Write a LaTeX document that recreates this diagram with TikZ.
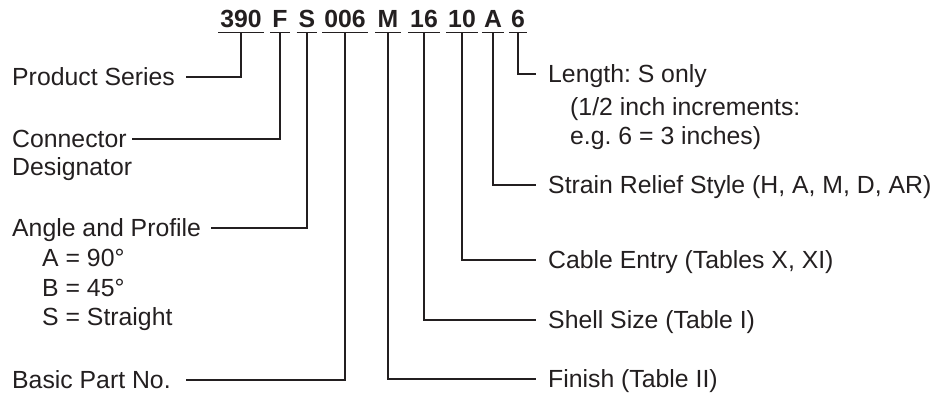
\documentclass[tikz,border=0pt]{standalone}
\usepackage{fontspec}
\setmainfont{Liberation Sans}
\definecolor{ink}{HTML}{231F20}
\newcommand{\lblfont}{\fontsize{24.8}{29.5}\selectfont\frenchspacing}
\tikzset{
  code/.style={font=\lblfont\bfseries, text=ink, anchor=base, inner xsep=2pt, inner ysep=5pt, text depth=0pt},
  lbl/.style={font=\lblfont, text=ink, anchor=west, inner sep=0pt, text height=17.5pt, text depth=0pt},
  rlbl/.style={lbl, inner xsep=12pt},
  sublbl/.style={font=\lblfont, text=ink, anchor=north west, align=left, inner sep=0pt},
  lead/.style={line width=1.4pt, draw=ink},
}
\begin{document}
\begin{tikzpicture}[x=1pt,y=-1pt]
  \useasboundingbox (0,0) rectangle (952,397);
  % part number
  \foreach \name/\x/\txt in {c390/241/390, cF/280/F, cS/307/S, c006/345/006,
      cM/388/M, c16/424/16, c10/462/10, cA/493/A, c6/518/6}
    \node[code] (\name) at (\x,27) {\txt};
  \foreach \name in {c390,cF,cS,c006,cM,c16,c10,cA,c6}
    \draw[lead] (\name.south west) -- (\name.south east);

  % left side
  \node[lbl] (series) at (12,77) {Product Series};
  \node[lbl] (conn) at (12,139) {Connector};
  \node[lbl] (conn2) at (12,167) {Designator};
  \node[lbl] (angle) at (12,228) {Angle and Profile};
  \node[sublbl] (angle2) at (42,249) {A = 90°\\B = 45°\\S = Straight};
  \node[lbl] (basic) at (12,380) {Basic Part No.};

  % right side
  \node[rlbl] (length) at (536,74) {Length: S only};
  \node[sublbl] (length2) at (570,97) {(1/2 inch increments:\\e.g. 6 = 3 inches)};
  \node[rlbl] (strain) at (536,185) {Strain Relief Style (H, A, M, D, AR)};
  \node[rlbl] (cable) at (536,260) {Cable Entry (Tables X, XI)};
  \node[rlbl] (shell) at (536,320) {Shell Size (Table I)};
  \node[rlbl] (finish) at (536,379) {Finish (Table II)};

  % leaders
  \draw[lead] (c390.south) |- ([xshift=11pt]series.east);
  \draw[lead] (cF.south) |- ([xshift=5pt]conn.east);
  \draw[lead] (cS.south) |- ([xshift=10pt]angle.east);
  \draw[lead] (c006.south) |- ([xshift=15pt]basic.east);
  \draw[lead] (c6.south) |- (length.west);
  \draw[lead] (cA.south) |- (strain.west);
  \draw[lead] (c10.south) |- (cable.west);
  \draw[lead] (c16.south) |- (shell.west);
  \draw[lead] (cM.south) |- (finish.west);
\end{tikzpicture}
\end{document}
